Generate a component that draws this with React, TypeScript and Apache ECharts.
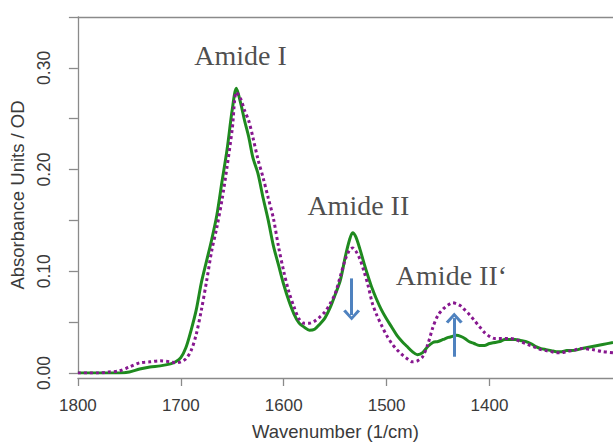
import React, { useEffect, useRef } from "react";
import * as echarts from "echarts";

const wavenumbers = [
  1800, 1790, 1780, 1770, 1760, 1750, 1740, 1730, 1720, 1710,
  1705, 1700, 1695, 1690, 1685, 1680, 1675, 1670, 1665, 1660,
  1655, 1650, 1646, 1642, 1638, 1634, 1630, 1625, 1620, 1615,
  1610, 1605, 1600, 1595, 1590, 1585, 1580, 1575, 1570, 1565,
  1560, 1555, 1550, 1545, 1540, 1536, 1533, 1530, 1526, 1522,
  1518, 1514, 1510, 1505, 1500, 1495, 1490, 1485, 1480, 1475,
  1470, 1465, 1460, 1455, 1450, 1445, 1440, 1436, 1432, 1428,
  1424, 1420, 1415, 1410, 1405, 1400, 1395, 1390, 1385, 1380,
  1375, 1370, 1365, 1360, 1355, 1350, 1345, 1340, 1335, 1330,
  1325, 1320, 1310, 1300, 1290, 1280,
];

const greenAbs = [
  0.000, 0.000, 0.000, 0.000, 0.000, 0.001, 0.004, 0.006, 0.007, 0.009,
  0.011, 0.015, 0.025, 0.042, 0.062, 0.089, 0.110, 0.131, 0.155, 0.188,
  0.220, 0.259, 0.280, 0.266, 0.248, 0.232, 0.212, 0.196, 0.172, 0.150,
  0.125, 0.106, 0.087, 0.071, 0.058, 0.049, 0.045, 0.042, 0.043, 0.048,
  0.054, 0.064, 0.077, 0.091, 0.115, 0.131, 0.138, 0.134, 0.122, 0.108,
  0.095, 0.083, 0.073, 0.062, 0.053, 0.045, 0.037, 0.031, 0.026, 0.021,
  0.018, 0.020, 0.026, 0.030, 0.031, 0.033, 0.035, 0.036, 0.037, 0.036,
  0.034, 0.031, 0.029, 0.027, 0.027, 0.029, 0.030, 0.031, 0.033, 0.033,
  0.033, 0.032, 0.031, 0.029, 0.026, 0.024, 0.023, 0.022, 0.021, 0.021,
  0.022, 0.022, 0.024, 0.026, 0.028, 0.030,
];

const purpleAbs = [
  0.000, 0.000, 0.000, 0.001, 0.002, 0.006, 0.010, 0.011, 0.012, 0.011,
  0.010, 0.011, 0.014, 0.022, 0.038, 0.062, 0.090, 0.120, 0.143, 0.170,
  0.203, 0.240, 0.276, 0.270, 0.258, 0.248, 0.232, 0.210, 0.192, 0.172,
  0.152, 0.124, 0.100, 0.080, 0.065, 0.053, 0.049, 0.049, 0.051, 0.055,
  0.060, 0.068, 0.078, 0.095, 0.112, 0.121, 0.123, 0.120, 0.112, 0.100,
  0.086, 0.069, 0.058, 0.047, 0.037, 0.029, 0.023, 0.018, 0.014, 0.011,
  0.012, 0.016, 0.028, 0.045, 0.057, 0.063, 0.067, 0.069, 0.068, 0.066,
  0.062, 0.058, 0.052, 0.046, 0.040, 0.036, 0.034, 0.034, 0.034, 0.034,
  0.033, 0.031, 0.029, 0.027, 0.025, 0.023, 0.022, 0.021, 0.020, 0.020,
  0.021, 0.022, 0.024, 0.023, 0.021, 0.020,
];

const xTickValues = [1800, 1700, 1600, 1500, 1400];
const yTickValues = [0, 0.05, 0.1, 0.15, 0.2, 0.25, 0.3, 0.35];
const yLabelValues = [0, 0.1, 0.2, 0.3];

const annotationTexts = ["Amide I", "Amide II", "Amide II\u2018"];
const annotationWn = [1642, 1527.5, 1437];
const annotationAbs = [0.312, 0.165, 0.096];

const arrowDownWn = 1534;
const arrowDownAbs = [0.093, 0.057];
const arrowUpWn = 1434.3;
const arrowUpAbs = [0.016, 0.054];

const AXIS_COLOR = "#8a8a8a";
const TEXT_COLOR = "#3a3a3a";
const SANS = "Liberation Sans";

export default function App() {
  const ref = useRef<HTMLDivElement>(null);

  useEffect(() => {
    if (!ref.current) return;
    const chart = echarts.init(ref.current, undefined, { renderer: "svg" });

    const greenData = wavenumbers.map((w, i) => [w, greenAbs[i]]);
    const purpleData = wavenumbers.map((w, i) => [w, purpleAbs[i]]);

    const chevron = "path://M0,10 L10,0 L20,10 L17,12 L10,4.5 L3,12 Z";

    chart.setOption({
      animation: false,
      textStyle: { fontFamily: SANS },
      grid: { left: 77, right: 0, top: 17, bottom: 74, containLabel: false },
      xAxis: [
        {
          type: "value",
          inverse: true,
          min: 1280,
          max: 1800,
          offset: 5,
          axisLine: { show: true, onZero: false, lineStyle: { color: AXIS_COLOR, width: 1.3 } },
          axisTick: { show: true, length: 8, customValues: xTickValues, lineStyle: { color: AXIS_COLOR, width: 1.3 } },
          axisLabel: {
            customValues: xTickValues,
            fontSize: 17,
            color: TEXT_COLOR,
            margin: 19,
            fontFamily: SANS,
            formatter: (v: number) => String(v),
          },
          splitLine: { show: false },
          name: "Wavenumber (1/cm)",
          nameLocation: "middle",
          nameGap: 44,
          nameTextStyle: { fontSize: 18.5, color: TEXT_COLOR, fontFamily: SANS, padding: [0, 20, 0, 0] },
        },
        {
          type: "value",
          position: "top",
          inverse: true,
          min: 1280,
          max: 1800,
          axisLine: { show: true, onZero: false, lineStyle: { color: AXIS_COLOR, width: 1.3 } },
          axisTick: { show: false },
          axisLabel: { show: false },
          splitLine: { show: false },
        },
      ],
      yAxis: {
        type: "value",
        min: 0,
        max: 0.35,
        axisLine: { show: true, onZero: false, lineStyle: { color: AXIS_COLOR, width: 1.3 } },
        axisTick: { show: true, length: 9, customValues: yTickValues, lineStyle: { color: AXIS_COLOR, width: 1.3 } },
        axisLabel: {
          customValues: yLabelValues,
          rotate: 90,
          fontSize: 17.5,
          color: TEXT_COLOR,
          margin: 25,
          fontFamily: SANS,
          formatter: (v: number) => v.toFixed(2),
        },
        splitLine: { show: false },
        name: "Absorbance Units / OD",
        nameLocation: "middle",
        nameGap: 42,
        nameTextStyle: { fontSize: 18.5, color: TEXT_COLOR, fontFamily: SANS },
      },
      series: [
        {
          type: "line",
          data: greenData,
          showSymbol: false,
          smooth: 0.3,
          lineStyle: { color: "#1f8a1f", width: 3 },
          z: 2,
        },
        {
          type: "line",
          data: purpleData,
          showSymbol: false,
          smooth: 0.3,
          lineStyle: { color: "#87178f", width: 3, type: [3, 3] },
          z: 3,
        },
        {
          type: "scatter",
          data: annotationWn.map((w, i) => ({
            value: [w, annotationAbs[i]],
            label: { formatter: annotationTexts[i] },
          })),
          symbolSize: 0,
          silent: true,
          label: {
            show: true,
            position: "inside",
            fontFamily: "Liberation Serif",
            fontSize: 28,
            color: "#1e1e1e",
          },
          markLine: {
            silent: true,
            symbol: ["none", chevron],
            symbolSize: [17, 11],
            label: { show: false },
            lineStyle: { color: "#4f82bf", width: 3, type: "solid" },
            data: [
              [{ coord: [arrowDownWn, arrowDownAbs[0]] }, { coord: [arrowDownWn, arrowDownAbs[1]] }],
              [{ coord: [arrowUpWn, arrowUpAbs[0]] }, { coord: [arrowUpWn, arrowUpAbs[1]] }],
            ],
          },
          z: 4,
        },
      ],
    });

    return () => chart.dispose();
  }, []);

  return (
    <div
      ref={ref}
      style={{ position: "fixed", left: 0, top: 0, width: 613, height: 447, background: "#fff" }}
    />
  );
}
